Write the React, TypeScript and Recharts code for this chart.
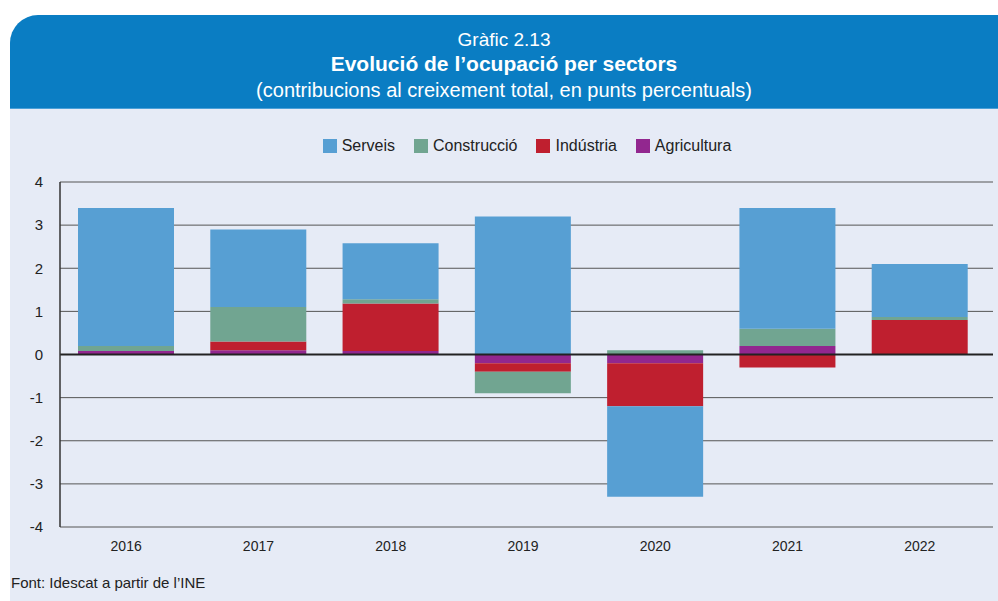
import React from "react";
import { BarChart, Bar, XAxis, YAxis, CartesianGrid, ReferenceLine } from "recharts";

const years = ["2016", "2017", "2018", "2019", "2020", "2021", "2022"];
const serveis = [3.2, 1.8, 1.3, 3.2, -2.1, 2.8, 1.23];
const construccio = [0.12, 0.8, 0.1, -0.5, 0.1, 0.4, 0.07];
const industria = [0.0, 0.2, 1.1, -0.2, -1.0, -0.3, 0.8];
const agricultura = [0.08, 0.1, 0.08, -0.2, -0.2, 0.2, 0.0];
const yTicks = [4, 3, 2, 1, 0, -1, -2, -3, -4];

const seriesNames = ["Serveis", "Construcció", "Indústria", "Agricultura"];
const colors: Record<string, string> = {
  Serveis: "#579fd3",
  "Construcció": "#71a591",
  "Indústria": "#bf1f2f",
  Agricultura: "#92278f",
};

const data = years.map((y, i) => ({
  year: y,
  Serveis: serveis[i],
  "Construcció": construccio[i],
  "Indústria": industria[i],
  Agricultura: agricultura[i],
}));

const FONT = "'Liberation Sans', Arial, sans-serif";

export default function App() {
  return (
    <div style={{ position: "absolute", left: 0, top: 0, width: 998, height: 601, background: "#fff", fontFamily: FONT, overflow: "hidden" }}>
      <div style={{ position: "absolute", left: 10, top: 15, width: 988, height: 93, background: "#0a7dc3", borderTopLeftRadius: 28, color: "#fff", textAlign: "center" }}>
        <div style={{ position: "absolute", left: 0, right: 0, top: 14, fontSize: 19, fontWeight: 300, lineHeight: "22px" }}>Gràfic 2.13</div>
        <div style={{ position: "absolute", left: 0, right: 0, top: 37, fontSize: 21, fontWeight: 700, lineHeight: "24px" }}>Evolució de l’ocupació per sectors</div>
        <div style={{ position: "absolute", left: 0, right: 0, top: 63, fontSize: 20, lineHeight: "24px" }}>(contribucions al creixement total, en punts percentuals)</div>
      </div>
      <div style={{ position: "absolute", left: 10, top: 108, width: 988, height: 1, background: "#4ba0d8" }} />
      <div style={{ position: "absolute", left: 10, top: 109, width: 988, height: 492, background: "#e6ebf6" }} />
      <div style={{ position: "absolute", left: 0, width: 998, top: 137, display: "flex", justifyContent: "center", paddingLeft: 56, boxSizing: "border-box", fontSize: 16, color: "#222" }}>
        {seriesNames.map((n, i) => (
          <div key={n} style={{ display: "flex", alignItems: "center", marginRight: i < 3 ? 19 : 0 }}>
            <div style={{ width: 14, height: 14, background: colors[n], marginRight: 5 }} />
            <span>{n}</span>
          </div>
        ))}
      </div>
      <div style={{ position: "absolute", left: 0, top: 160 }}>
        <BarChart width={998} height={400} data={data} stackOffset="sign" margin={{ top: 22, right: 5, left: 0, bottom: 0 }}>
          <CartesianGrid vertical={false} stroke="#555" strokeWidth={1} />
          <XAxis dataKey="year" height={33} tickLine={false} axisLine={false} tickMargin={8} padding={{ left: 0, right: 7 }} tick={{ fontSize: 14, fill: "#222", fontFamily: FONT }} interval={0} />
          <YAxis domain={[-4, 4]} ticks={yTicks} width={60} tickLine={false} tickSize={0} tickMargin={17} axisLine={{ stroke: "#333", strokeWidth: 1.5 }} tick={{ fontSize: 15, fill: "#222", fontFamily: FONT }} interval={0} />
          <YAxis yAxisId="r" orientation="right" domain={[-4, 4]} ticks={yTicks} width={0} tick={false} tickLine={false} axisLine={{ stroke: "#333", strokeWidth: 1.5 }} />
          <Bar dataKey="Agricultura" stackId="a" fill={colors.Agricultura} barSize={96} isAnimationActive={false} />
          <Bar dataKey="Indústria" stackId="a" fill={colors["Indústria"]} barSize={96} isAnimationActive={false} />
          <Bar dataKey="Construcció" stackId="a" fill={colors["Construcció"]} barSize={96} isAnimationActive={false} />
          <Bar dataKey="Serveis" stackId="a" fill={colors.Serveis} barSize={96} isAnimationActive={false} />
          <ReferenceLine y={0} stroke="#222" strokeWidth={2} />
        </BarChart>
      </div>
      <div style={{ position: "absolute", left: 11, top: 574, fontSize: 15, color: "#222" }}>Font: Idescat a partir de l’INE</div>
    </div>
  );
}
